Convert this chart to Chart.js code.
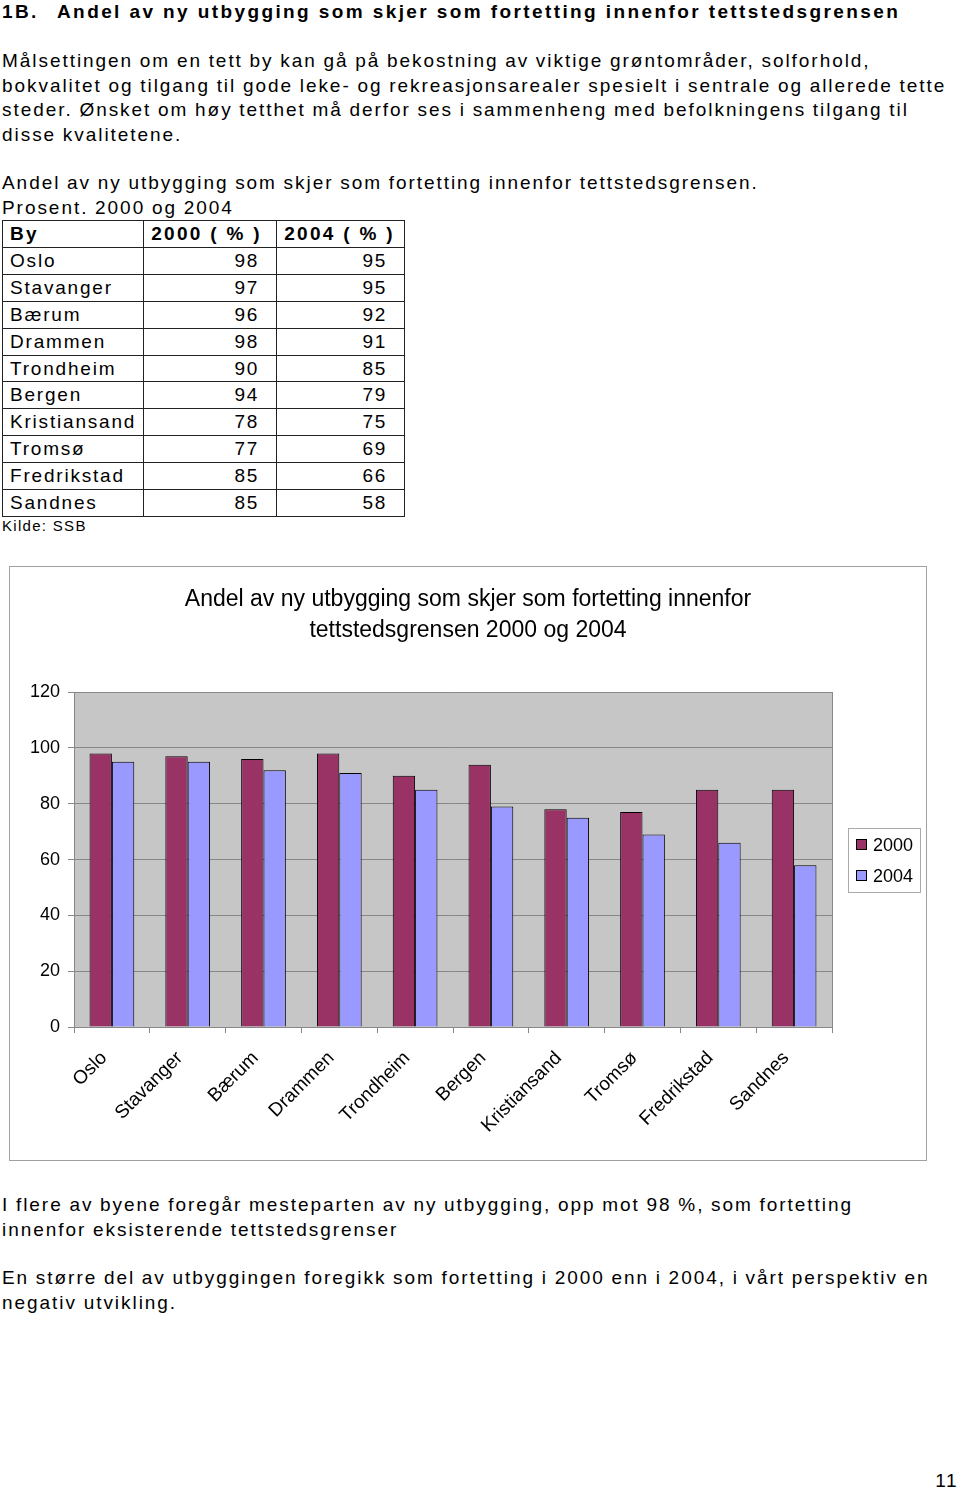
<!DOCTYPE html>
<html>
<head>
<meta charset="utf-8">
<script src="https://cdn.jsdelivr.net/npm/chart.js@4.4.1/dist/chart.umd.min.js"></script>
<style>
body { margin: 0; background: #fff; color: #000; font-family: "Liberation Sans", Arial, sans-serif; }
.page { position: relative; width: 960px; height: 1489px; overflow: hidden; }
.txt { position: absolute; left: 2px; white-space: nowrap; font-size: 19px; line-height: 24.5px; letter-spacing: 1.95px; word-spacing: -0.5px; }
.head { font-weight: bold; letter-spacing: 2.4px; word-spacing: 0; }
table { position: absolute; left: 2px; top: 220px; border-collapse: collapse; table-layout: fixed; font-size: 19px; letter-spacing: 1.8px; white-space: nowrap; }
td, th { border: 1.5px solid #222; height: 25.9px; padding: 0 7px; line-height: 25.9px; overflow: hidden; }
th { font-weight: bold; text-align: left; letter-spacing: 2.3px; }
td.num { text-align: right; padding-right: 17px; }
.kilde { position: absolute; left: 2px; top: 517px; font-size: 15px; letter-spacing: 1.3px; }
.frame { position: absolute; left: 9px; top: 566px; width: 918px; height: 595px; box-sizing: border-box; border: 1px solid #a0a0a0; }
.pnum { position: absolute; right: 2px; top: 1470px; font-size: 19px; letter-spacing: 1.5px; }
</style>
</head>
<body>
<div class="page">
  <div class="txt head" style="top:0px">1B.</div>
  <div class="txt head" style="top:0px; left:57px">Andel av ny utbygging som skjer som fortetting innenfor tettstedsgrensen</div>
  <div class="txt" style="top:49px">Målsettingen om en tett by kan gå på bekostning av viktige grøntområder, solforhold,<br>bokvalitet og tilgang til gode leke- og rekreasjonsarealer spesielt i sentrale og allerede tette<br>steder. Ønsket om høy tetthet må derfor ses i sammenheng med befolkningens tilgang til<br>disse kvalitetene.</div>
  <div class="txt" style="top:171px">Andel av ny utbygging som skjer som fortetting innenfor tettstedsgrensen.<br>Prosent. 2000 og 2004</div>
  <table id="tab"></table>
  <div class="kilde">Kilde: SSB</div>
  <div class="frame"><canvas id="chart"></canvas></div>
  <div class="txt" style="top:1193px">I flere av byene foregår mesteparten av ny utbygging, opp mot 98 %, som fortetting<br>innenfor eksisterende tettstedsgrenser</div>
  <div class="txt" style="top:1266px">En større del av utbyggingen foregikk som fortetting i 2000 enn i 2004, i vårt perspektiv en<br>negativ utvikling.</div>
  <div class="pnum">11</div>
</div>
<script>
var byer = ["Oslo", "Stavanger", "Bærum", "Drammen", "Trondheim", "Bergen", "Kristiansand", "Tromsø", "Fredrikstad", "Sandnes"];
var verdier2000 = [98, 97, 96, 98, 90, 94, 78, 77, 85, 85];
var verdier2004 = [95, 95, 92, 91, 85, 79, 75, 69, 66, 58];
var serier = ["2000", "2004"];
var yTicks = [0, 20, 40, 60, 80, 100, 120];

// table above the chart, from the same numbers
var tab = document.getElementById("tab");
var html = '<colgroup><col style="width:140px"><col style="width:133px"><col style="width:128px"></colgroup>';
html += '<tr><th>By</th><th>2000 ( % )</th><th>2004 ( % )</th></tr>';
for (var i = 0; i < byer.length; i++) {
   html += '<tr><td>' + byer[i] + '</td><td class="num">' + verdier2000[i] + '</td><td class="num">' + verdier2004[i] + '</td></tr>';
}
tab.innerHTML = html;

var font = '"Liberation Sans", Arial, sans-serif';

// grey plot area
var plotBg = {
   id: "plotBg",
   beforeDraw: function (chart) {
      var a = chart.chartArea, ctx = chart.ctx;
      ctx.save();
      ctx.fillStyle = "#c6c6c6";
      ctx.fillRect(a.left, a.top, a.right - a.left, a.bottom - a.top);
      ctx.restore();
   }
};

// Excel style legend box at the right
var legendBox = {
   id: "legendBox",
   afterDraw: function (chart) {
      var a = chart.chartArea, ctx = chart.ctx;
      var w = 72, h = 64;
      var x = Math.round(a.right) + 16;
      var y = Math.round((a.top + a.bottom) / 2 - h / 2);
      ctx.save();
      ctx.fillStyle = "#fff";
      ctx.fillRect(x, y, w, h);
      ctx.strokeStyle = "#aaa";
      ctx.lineWidth = 1;
      ctx.strokeRect(x + 0.5, y + 0.5, w, h);
      ctx.font = "18px " + font;
      ctx.textBaseline = "middle";
      chart.data.datasets.forEach(function (ds, i) {
         var cy = y + 17 + i * 31;
         ctx.fillStyle = ds.backgroundColor;
         ctx.fillRect(x + 8.5, cy - 5.5, 10, 10);
         ctx.strokeStyle = "#000";
         ctx.strokeRect(x + 8.5, cy - 5.5, 10, 10);
         ctx.fillStyle = "#000";
         ctx.fillText(ds.label, x + 25, cy + 1);
      });
      ctx.restore();
   }
};

new Chart("chart", {
   type: "bar",
   data: {
      labels: byer,
      datasets: [{
         label: serier[0],
         data: verdier2000,
         backgroundColor: "#993366",
         borderColor: "#000",
         borderWidth: 1,
         categoryPercentage: 0.59,
         barPercentage: 1
      }, {
         label: serier[1],
         data: verdier2004,
         backgroundColor: "#9999ff",
         borderColor: "#000",
         borderWidth: 1,
         categoryPercentage: 0.59,
         barPercentage: 1
      }]
   },
   options: {
      responsive: true,
      maintainAspectRatio: false,
      animation: false,
      layout: { padding: 0 },
      plugins: {
         legend: { display: false },
         tooltip: { enabled: false },
         title: {
            display: true,
            text: ["Andel av ny utbygging som skjer som fortetting innenfor", "tettstedsgrensen 2000 og 2004"],
            color: "#000",
            font: { family: font, size: 23, weight: "normal", lineHeight: 1.35 },
            padding: { top: 17, bottom: 46 }
         }
      },
      scales: {
         x: {
            afterFit: function (s) { s.height = 133; },
            grid: { offset: true, drawOnChartArea: false, drawTicks: true, tickLength: 6, color: "#888" },
            border: { display: true, color: "#888" },
            ticks: { color: "#000", font: { family: font, size: 19 }, maxRotation: 45, minRotation: 45, padding: 14, labelOffset: -8 }
         },
         y: {
            min: 0,
            max: 120,
            afterFit: function (s) { s.width = 64; },
            afterBuildTicks: function (s) { s.ticks = yTicks.map(function (v) { return { value: v }; }); },
            grid: { color: "#888", tickLength: 6 },
            border: { display: true, color: "#888" },
            ticks: { color: "#000", font: { family: font, size: 18 }, padding: 8 }
         },
         // empty right axis: keeps room for the legend and draws the right edge of the plot
         yRight: {
            position: "right",
            min: 0,
            max: 120,
            afterFit: function (s) { s.width = 94; },
            grid: { drawOnChartArea: false, drawTicks: false },
            border: { display: true, color: "#888" },
            ticks: { display: false }
         }
      }
   },
   plugins: [plotBg, legendBox]
});
</script>
</body>
</html>
